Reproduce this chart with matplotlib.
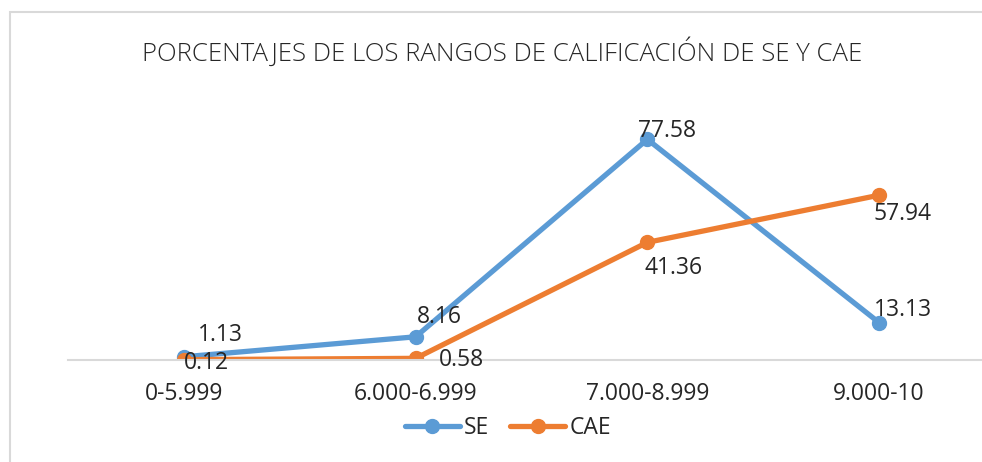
import matplotlib
matplotlib.use('Agg')
import matplotlib.pyplot as plt
from matplotlib.patches import Rectangle

# Datos
categorias = ['0-5.999', '6.000-6.999', '7.000-8.999', '9.000-10']
se = [1.13, 8.16, 77.58, 13.13]
cae = [0.12, 0.58, 41.36, 57.94]
titulo = 'PORCENTAJES DE LOS RANGOS DE CALIFICACIÓN DE SE Y CAE'

azul = '#5B9BD5'
naranja = '#ED7D31'
texto = '#262626'

plt.rcParams['font.family'] = ['Open Sans', 'DejaVu Sans']

fig = plt.figure(figsize=(9.82, 4.62), dpi=100)
ax = fig.add_axes([68/982, 102/462, 927/982, 256/462])

x = list(range(len(categorias)))
ax.plot(x, se, color=azul, lw=3.8, marker='o', ms=10, label='SE', solid_capstyle='round')
ax.plot(x, cae, color=naranja, lw=3.8, marker='o', ms=10, label='CAE', solid_capstyle='round')

# desplazamientos de las etiquetas (pixeles)
off_se = [(37, 22), (24, 20), (20, 8), (24, 13)]
off_cae = [(23, -3), (46, -2), (26, -26), (23, -19)]
for i in x:
    ax.annotate(f'{se[i]:.2f}', (i, se[i]), xytext=off_se[i], textcoords='offset pixels',
                ha='center', va='center', fontsize=16.5, color=texto)
    ax.annotate(f'{cae[i]:.2f}', (i, cae[i]), xytext=off_cae[i], textcoords='offset pixels',
                ha='center', va='center', fontsize=16.5, color=texto)

ax.set_xlim(-0.5, 3.5)
ax.set_ylim(0, 90)
ax.set_xticks(x)
ax.set_xticklabels(categorias, fontsize=16.5, color=texto)
ax.tick_params(axis='x', length=0, pad=16)
ax.set_yticks([])
for s in ['top', 'right', 'left']:
    ax.spines[s].set_visible(False)
ax.spines['bottom'].set_color('#D9D9D9')
ax.spines['bottom'].set_linewidth(1.5)

fig.text(502/982, 1 - 52/462, titulo, ha='center', va='center', fontsize=18.5,
         color=texto, fontweight='light')

leg = ax.legend(loc='center', bbox_to_anchor=(508/982, 1 - 428/462), bbox_transform=fig.transFigure,
                ncol=2, frameon=False, fontsize=16.5, handlelength=2.4, columnspacing=0.9,
                handletextpad=0.2)
for t in leg.get_texts():
    t.set_color(texto)

fig.add_artist(Rectangle((10/982, -0.2), 1.2, 1.2 - 12/462, transform=fig.transFigure,
                         fill=False, edgecolor='#D9D9D9', lw=1.5))

fig.savefig('out.png', dpi=100)
